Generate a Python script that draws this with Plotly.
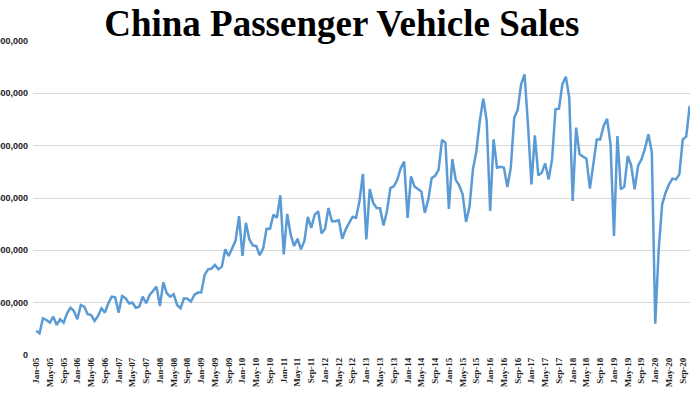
import pandas as pd
import plotly.graph_objects as go

# Monthly sales (units), one list per label year
sales_2005 = [232000, 207000, 351000, 335000, 309000, 366000, 287000, 341000, 309000, 398000, 452000, 420000]
sales_2006 = [341000, 478000, 462000, 389000, 382000, 325000, 373000, 446000, 405000, 494000, 557000, 551000]
sales_2007 = [405000, 564000, 542000, 494000, 500000, 452000, 462000, 557000, 494000, 574000, 612000, 653000]
sales_2008 = [468000, 695000, 590000, 557000, 580000, 478000, 446000, 542000, 538000, 510000, 574000, 596000]
sales_2009 = [596000, 765000, 819000, 825000, 860000, 819000, 844000, 1010000, 946000, 1020000, 1093000, 1326000]
sales_2010 = [946000, 1263000, 1104000, 1047000, 1041000, 953000, 1016000, 1206000, 1206000, 1342000, 1310000, 1525000]
sales_2011 = [962000, 1348000, 1152000, 1041000, 1111000, 1009000, 1089000, 1320000, 1215000, 1342000, 1373000, 1161000]
sales_2012 = [1206000, 1405000, 1278000, 1278000, 1288000, 1111000, 1199000, 1263000, 1320000, 1310000, 1468000, 1731000]
sales_2013 = [1104000, 1585000, 1453000, 1405000, 1402000, 1237000, 1373000, 1595000, 1611000, 1674000, 1785000, 1848000]
sales_2014 = [1310000, 1706000, 1611000, 1585000, 1563000, 1358000, 1484000, 1690000, 1712000, 1769000, 2054000, 2028000]
sales_2015 = [1396000, 1870000, 1674000, 1621000, 1535000, 1271000, 1417000, 1774000, 1949000, 2240000, 2449000, 2236000]
sales_2016 = [1376000, 2060000, 1790000, 1799000, 1790000, 1605000, 1790000, 2268000, 2341000, 2586000, 2682000, 2200000]
sales_2017 = [1630000, 2099000, 1716000, 1742000, 1831000, 1678000, 1869000, 2347000, 2353000, 2586000, 2659000, 2459000]
sales_2018 = [1471000, 2172000, 1917000, 1895000, 1876000, 1589000, 1806000, 2060000, 2060000, 2188000, 2258000, 2013000]
sales_2019 = [1137000, 2092000, 1583000, 1608000, 1901000, 1812000, 1583000, 1806000, 1869000, 1971000, 2108000, 1939000]
sales_2020 = [299000, 1010000, 1439000, 1551000, 1630000, 1685000, 1678000, 1726000, 2060000, 2086000, 2379000]

sales = (sales_2005 + sales_2006 + sales_2007 + sales_2008 + sales_2009 + sales_2010 +
         sales_2011 + sales_2012 + sales_2013 + sales_2014 + sales_2015 + sales_2016 +
         sales_2017 + sales_2018 + sales_2019 + sales_2020)

months = [d.strftime("%b-%y") for d in pd.date_range("2005-01-01", periods=len(sales), freq="MS")]
tick_labels = months[::4]
y_ticks = [0, 500000, 1000000, 1500000, 2000000, 2500000, 3000000]

fig = go.Figure()
fig.add_trace(go.Scatter(
    x=list(range(len(sales))), y=sales, mode="lines",
    line=dict(color="#5B9BD5", width=2.5),
    hoverinfo="skip",
))

fig.update_layout(
    width=700, height=394,
    margin=dict(l=33, r=10, t=41, b=39),
    paper_bgcolor="white", plot_bgcolor="white",
    showlegend=False,
    title=dict(
        text="China Passenger Vehicle Sales",
        x=0.470, xanchor="center", xref="paper",
        y=1 - 23 / 394, yanchor="middle", yref="container",
        font=dict(family="Liberation Serif", size=37, color="black", weight="bold"),
    ),
)
fig.update_xaxes(
    range=[-0.9, 190.1],
    tickmode="array",
    tickvals=list(range(0, len(sales), 4)),
    ticktext=tick_labels,
    tickangle=-90,
    tickfont=dict(family="Liberation Serif", size=9, color="#222", weight="bold"),
    showgrid=False, zeroline=False,
    showline=False, ticks="", automargin=False,
)
fig.update_yaxes(
    range=[0, 3000000],
    tickmode="array", tickvals=y_ticks,
    tickformat=",",
    tickfont=dict(family="Liberation Sans", size=9, color="#222", weight="bold"),
    ticklabelstandoff=4,
    showgrid=True, gridcolor="#d9d9d9", gridwidth=1,
    zeroline=False, showline=False, ticks="", automargin=False,
)

fig.write_html(
    "out.html",
    config={"displayModeBar": False, "staticPlot": True},
    post_script="document.body.style.margin='0';document.body.style.overflow='hidden';",
)
